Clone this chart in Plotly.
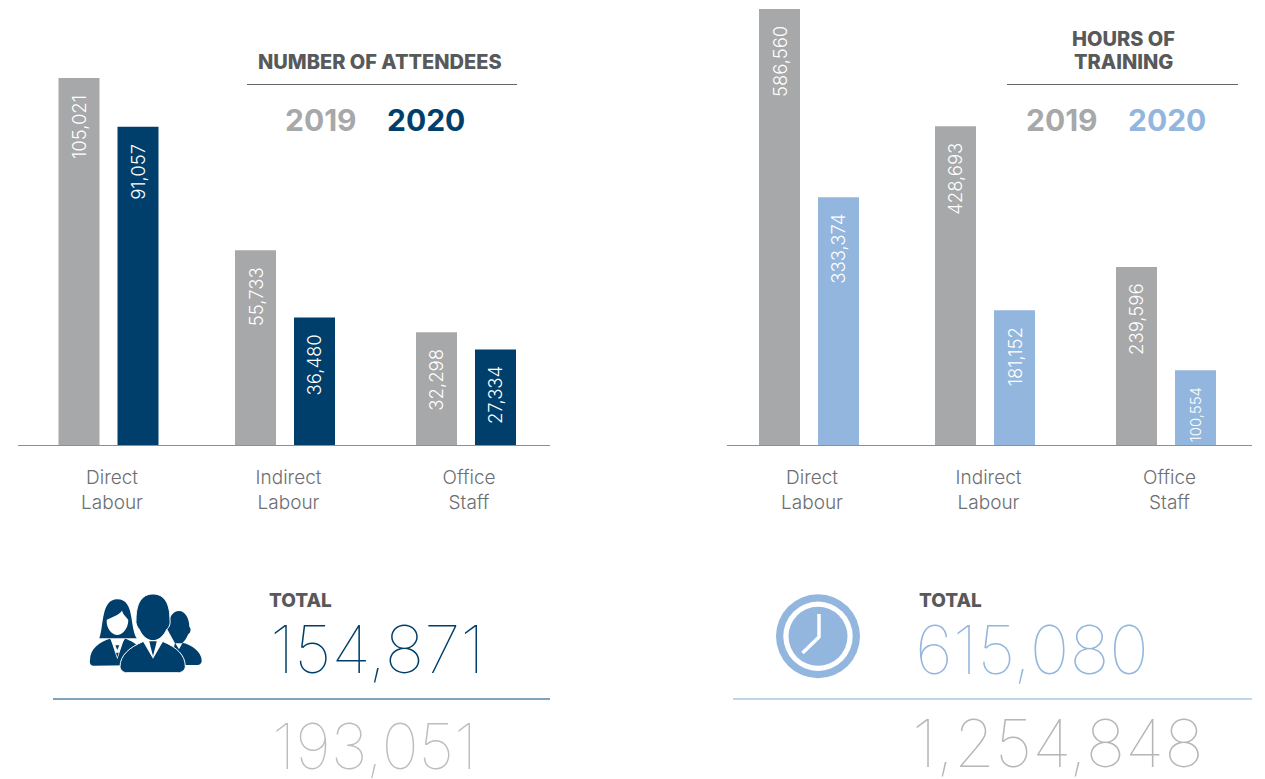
import plotly.graph_objects as go

# ---------- data ----------
categories = ["Direct<br>Labour", "Indirect<br>Labour", "Office<br>Staff"]
attendees_2019 = [105021, 55733, 32298]
attendees_2020 = [91057, 36480, 27334]
hours_2019 = [586560, 428693, 239596]
hours_2020 = [333374, 181152, 100554]
total_attendees_2020 = "154,871"
total_attendees_2019 = "193,051"
total_hours_2020 = "615,080"
total_hours_2019 = "1,254,848"

# ---------- style / layout ----------
W, H = 1265, 779
BASE = 445
GREY = "#a7a8aa"; NAVY = "#003f6b"; SKY = "#93b6de"; DARK = "#58595b"; MID = "#6d6e71"
FONT = "Inter"
BAR_W = 41
L_X19 = [79, 255.5, 436.5]; L_X20 = [138, 314.5, 495.5]; L_TICK = [112, 288.5, 469]
R_X19 = [779.5, 955.5, 1136.5]; R_X20 = [838.5, 1014.5, 1195.5]; R_TICK = [812, 988.5, 1169.5]
L_SCALE = 367 / 105021   # pixels per unit
R_SCALE = 436 / 586560

fig = go.Figure()
fig.add_bar(x=L_X19, y=attendees_2019, width=BAR_W, marker_color=GREY, marker_line_width=0, xaxis="x", yaxis="y", name="2019")
fig.add_bar(x=L_X20, y=attendees_2020, width=BAR_W, marker_color=NAVY, marker_line_width=0, xaxis="x", yaxis="y", name="2020")
fig.add_bar(x=R_X19, y=hours_2019, width=BAR_W, marker_color=GREY, marker_line_width=0, xaxis="x2", yaxis="y2", name="2019")
fig.add_bar(x=R_X20, y=hours_2020, width=BAR_W, marker_color=SKY, marker_line_width=0, xaxis="x2", yaxis="y2", name="2020")

ann = []
def bar_labels(xs, vals, xr, yr, sizes=(18.5, 18.5, 18.5)):
    for x, v, s in zip(xs, vals, sizes):
        ann.append(dict(x=x, y=v, xref=xr, yref=yr, text=f"{v:,}", textangle=-90, showarrow=False,
                        yanchor="top", xanchor="center", yshift=-15,
                        font=dict(family=FONT, size=s, color="white", weight=300)))
bar_labels(L_X19, attendees_2019, "x", "y")
bar_labels(L_X20, attendees_2020, "x", "y")
bar_labels(R_X19, hours_2019, "x2", "y2")
bar_labels(R_X20, hours_2020, "x2", "y2", (18.5, 18.5, 15))

def txt(x, y, s, size, color, weight=400, anchor="center"):
    ann.append(dict(x=x, y=y, xref="x3", yref="y3", text=s, showarrow=False, xanchor=anchor, yanchor="middle",
                    font=dict(family=FONT, size=size, color=color, weight=weight)))

txt(380, 62, "NUMBER OF ATTENDEES", 20, DARK, 800)
txt(321, 120, "2019", 30, GREY, 700)
txt(426, 120, "2020", 30, NAVY, 700)
txt(1123, 39, "HOURS OF", 20, DARK, 800)
txt(1123, 62, "TRAINING", 20, DARK, 800)
txt(1062, 120, "2019", 30, GREY, 700)
txt(1167, 120, "2020", 30, SKY, 700)
txt(267, 600, "TOTAL", 19, DARK, 800, "left")
txt(917, 600, "TOTAL", 19, DARK, 800, "left")
txt(377, 649, total_attendees_2020, 66, NAVY, 100)
txt(374, 746, total_attendees_2019, 63, "#bcbdc0", 100)
txt(1032, 649, total_hours_2020, 67, SKY, 100)
txt(1058, 743, total_hours_2019, 66, "#b5b6b8", 100)

shapes = []
def line(x0, x1, y, color, w=1):
    shapes.append(dict(type="line", xref="x3", yref="y3", x0=x0, x1=x1, y0=y, y1=y, line=dict(color=color, width=w)))
line(247, 517, 84.5, "#666666")
line(1007, 1238, 84.5, "#666666")
line(53, 550, 699, "#5585a3", 1.4)
line(733, 1252, 699, "#a9c7e8", 1.4)

# clock icon
def circle(cx, cy, r, color):
    shapes.append(dict(type="circle", xref="x3", yref="y3", x0=cx-r, x1=cx+r, y0=cy-r, y1=cy+r,
                       fillcolor=color, line_width=0))
circle(818, 636.3, 42, SKY); circle(818, 636.3, 34.7, "white"); circle(818, 636.3, 29.5, SKY)
shapes.append(dict(type="path", xref="x3", yref="y3", path="M 819 614 L 819 637 L 802.5 653",
                   line=dict(color="white", width=3.5)))

# people icon, drawn in zoomed-crop units then mapped to the page
def P(*pts):
    out = []
    cmd = None
    fresh = False
    for p in pts:
        if isinstance(p, str):
            cmd = p
            fresh = True
            out.append(p)
        else:
            if cmd == "L" and not fresh:
                out.append("L")
            out.append(f"{60+p[0]/3:.1f},{570+p[1]/3:.1f}")
            fresh = False
    return " ".join(out)
def icon(path, fill=NAVY, lc=None, lw=0):
    shapes.append(dict(type="path", xref="x3", yref="y3", path=path, fillcolor=fill,
                       line=dict(color=lc or fill, width=lw)))
# woman
icon(P("M",(118,205),"C",(132,170),(122,88),(172,88),"C",(225,88),(208,170),(230,205),"L",(205,205),(140,205),"Z"))
icon(P("M",(140,150),"C",(152,142),(175,138),(186,122),"C",(190,135),(200,142),(205,150),"C",(205,178),(185,195),(172,195),"C",(158,195),(138,178),(140,150),"Z"),"white")
icon(P("M",(90,270),"C",(90,235),(120,215),(150,206),"L",(172,240),(195,206),"C",(225,215),(260,240),(260,285),"L",(100,287),"C",(92,287),(88,280),(90,270),"Z"))
icon(P("M",(152,208),"L",(192,208),(172,268),"Z"), "white")
icon(P("M",(166,226),"L",(178,226),(172,240),"Z"))
icon(P("M",(168,248),"L",(176,248),(172,262),"Z"))
# right man
icon(P("M",(322,178),"C",(325,140),(340,123),(357,123),"C",(375,123),(388,145),(388,170),"C",(396,178),(390,190),(385,192),"C",(380,205),(372,215),(366,220),"L",(345,220),"Z"))
icon(P("M",(345,218),"L",(357,238),(368,218),"C",(395,225),(425,245),(425,272),"C",(425,280),(420,285),(412,285),"L",(330,285),"Z"))
# centre man
icon(P("M",(228,150),"C",(228,100),(245,72),(279,72),"C",(313,72),(330,100),(330,150),"C",(332,165),(325,175),(320,178),"C",(312,198),(295,212),(279,212),"C",(263,212),(245,198),(238,178),"C",(232,172),(226,160),(228,150),"Z"), NAVY, "white", 1)
icon(P("M",(180,290),"C",(180,255),(210,232),(248,215),"L",(310,215),"C",(350,232),(376,255),(376,290),"C",(376,300),(365,308),(355,308),"L",(200,308),"C",(190,308),(180,300),(180,290),"Z"), NAVY, "white", 1)
icon(P("M",(250,216),"L",(308,216),(279,266),"Z"), "white")
icon(P("M",(268,214),"L",(290,214),(286,232),(279,258),(272,232),"Z"))

axis_common = dict(showgrid=False, zeroline=False, fixedrange=True)
def xax(x0, x1, ticks, anchor):
    return dict(domain=[x0/W, x1/W], range=[x0, x1], tickmode="array", tickvals=ticks, ticktext=categories,
                tickfont=dict(family=FONT, size=19, color=MID, weight=300), ticks="", ticklabelstandoff=15,
                showline=True, linecolor="#8e8f91", linewidth=1, anchor=anchor, **axis_common)
def yax(scale):
    return dict(domain=[1-BASE/H, 1], range=[0, BASE/scale], visible=False, **axis_common)

fig.update_layout(
    width=W, height=H, margin=dict(l=0, r=0, t=0, b=0), autosize=False,
    paper_bgcolor="white", plot_bgcolor="rgba(0,0,0,0)", showlegend=False, barmode="overlay",
    font=dict(family=FONT),
    xaxis=xax(18, 550, L_TICK, "y"), yaxis=yax(L_SCALE),
    xaxis2=xax(727, 1252, R_TICK, "y2"), yaxis2=yax(R_SCALE),
    xaxis3=dict(domain=[0, 1], range=[0, W], visible=False, anchor="y3", **axis_common),
    yaxis3=dict(domain=[0, 1], range=[H, 0], visible=False, anchor="x3", **axis_common),
    annotations=ann, shapes=shapes,
)
fig.write_html("out.html", config={"displayModeBar": False},
               post_script="document.body.style.margin='0';document.documentElement.style.overflow='hidden';")
